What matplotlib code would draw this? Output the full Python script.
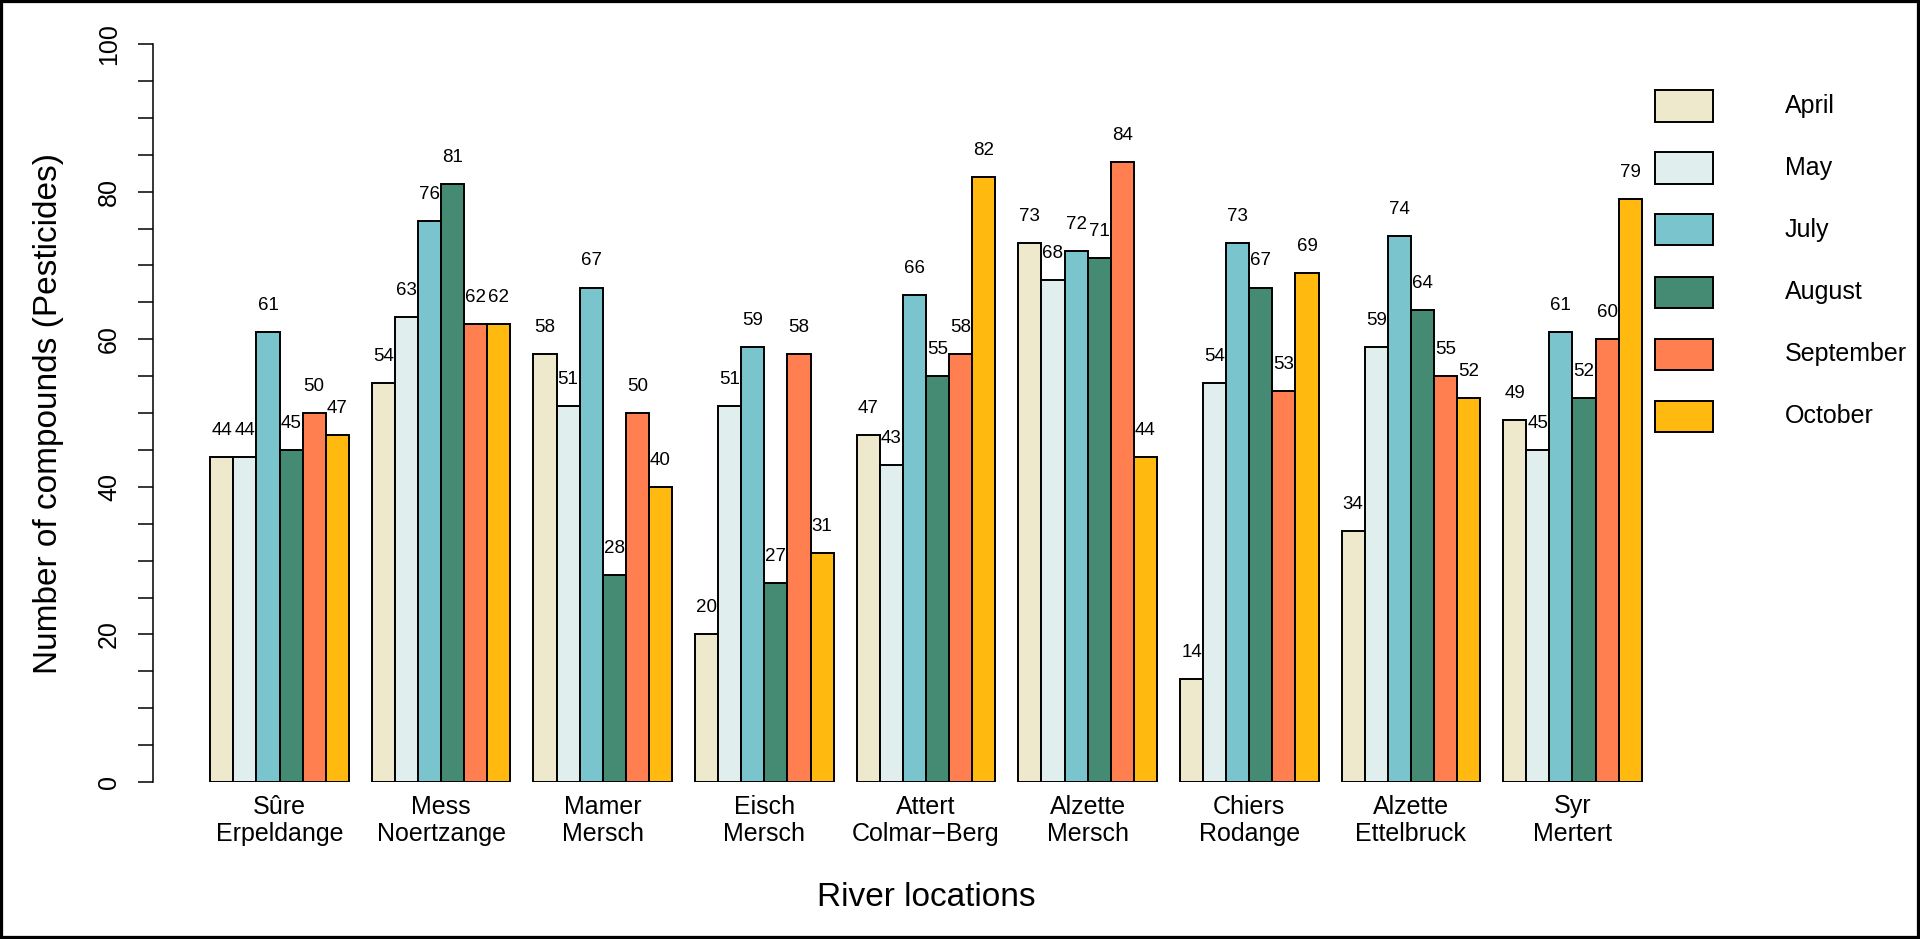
import numpy as np
import matplotlib.pyplot as plt
from matplotlib.patches import Rectangle

plt.rcParams['font.family'] = ['Liberation Sans', 'DejaVu Sans']

# data
locations = ["Sûre\nErpeldange", "Mess\nNoertzange", "Mamer\nMersch", "Eisch\nMersch",
             "Attert\nColmar\u2212Berg", "Alzette\nMersch", "Chiers\nRodange",
             "Alzette\nEttelbruck", "Syr\nMertert"]
months = ["April", "May", "July", "August", "September", "October"]
april = [44, 54, 58, 20, 47, 73, 14, 34, 49]
may = [44, 63, 51, 51, 43, 68, 54, 59, 45]
july = [61, 76, 67, 59, 66, 72, 73, 74, 61]
august = [45, 81, 28, 27, 55, 71, 67, 64, 52]
september = [50, 62, 50, 58, 58, 84, 53, 55, 60]
october = [47, 62, 40, 31, 82, 44, 69, 52, 79]
series = [april, may, july, august, september, october]
colors = ["#EEE8CD", "#E0EEEE", "#7AC5CD", "#458B74", "#FF7F50", "#FFB90F"]

W, H = 1920, 939
fig = plt.figure(figsize=(W / 100, H / 100), dpi=100)
ax = fig.add_axes([153 / W, 1 - 782 / H, (1699 - 153) / W, (782 - 44) / H])

n = len(months)
for i, (vals, col) in enumerate(zip(series, colors)):
    x = 1 + np.arange(len(locations)) * (n + 1) + i + 0.5
    ax.bar(x, vals, width=1.0, color=col, edgecolor="black", linewidth=1.4)
    for xi, v in zip(x, vals):
        ax.text(xi, v + 3.6, str(v), ha="center", va="center", fontsize=13.5)

centers = 1 + np.arange(len(locations)) * (n + 1) + n / 2
ax.set_xticks(centers)
ax.set_xticklabels(locations, fontsize=18, linespacing=1.2)
ax.tick_params(axis="x", length=0, pad=9)

ax.set_xlim(-1.48, 65.48)
ax.set_ylim(0, 100)
ax.set_yticks(np.arange(0, 101, 20))
ax.set_yticks(np.arange(0, 101, 5), minor=True)
ax.tick_params(axis="y", which="both", length=11, width=1.1)
ax.tick_params(axis="y", which="major", labelsize=18, pad=12)
for lab in ax.get_yticklabels():
    lab.set_rotation(90)
    lab.set_va("center")

for s in ["top", "right", "bottom"]:
    ax.spines[s].set_visible(False)
ax.spines["left"].set_bounds(0, 100)
ax.spines["left"].set_linewidth(1.1)

fig.text(49 / W, 1 - 413 / H, "Number of compounds (Pesticides)", rotation=90,
         ha="center", va="center", fontsize=24)
fig.text(926 / W, 1 - 898 / H, "River locations", ha="center", va="center", fontsize=24)

# legend drawn by hand at the right side
for i, (m, col) in enumerate(zip(months, colors)):
    yc = 106 + i * 62
    fig.add_artist(Rectangle((1655 / W, 1 - (yc + 15.5) / H), 58 / W, 31 / H,
                             transform=fig.transFigure, facecolor=col,
                             edgecolor="black", linewidth=1.4))
    fig.text(1785 / W, 1 - yc / H, m, ha="left", va="center", fontsize=18)

fig.add_artist(Rectangle((0, 0), 1, 1, transform=fig.transFigure, fill=False,
                         edgecolor="black", linewidth=4.5))

fig.savefig("out.png", dpi=100)
